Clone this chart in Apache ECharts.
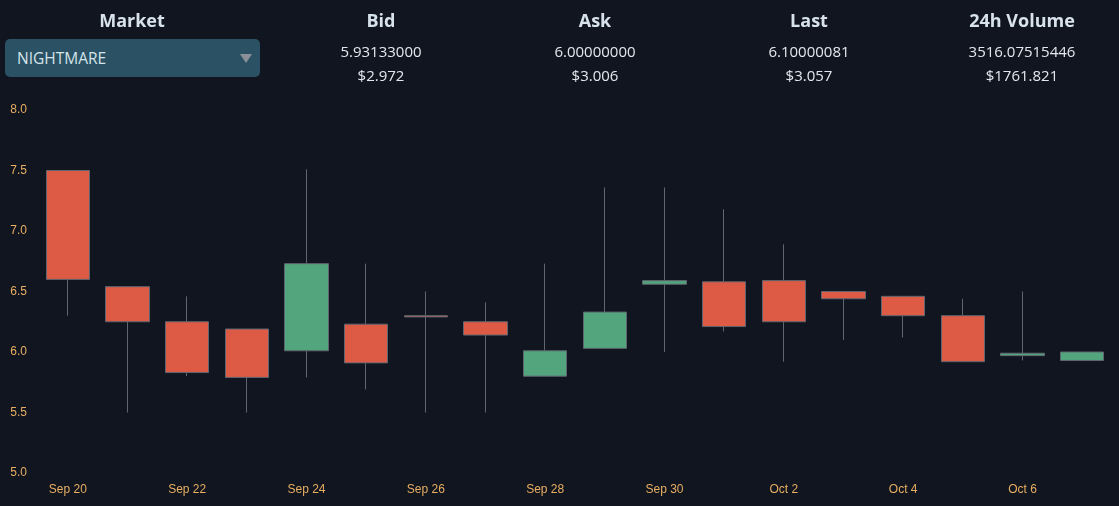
<!DOCTYPE html>
<html>
<head>
<meta charset="utf-8">
<script src="https://cdn.jsdelivr.net/npm/echarts@6/dist/echarts.min.js"></script>
<style>
  html, body { margin: 0; padding: 0; background: #10151f; }
  #wrap { position: relative; width: 1119px; height: 506px; overflow: hidden; font-family: "Open Sans", sans-serif; color: #e3e8ee; }
  #chart { position: absolute; left: 0; top: 0; width: 1119px; height: 506px; }
  .col { position: absolute; top: 8px; width: 220px; text-align: center; font-size: 15px; line-height: 24px; }
  .col b { display: block; font-size: 18px; font-weight: 700; line-height: 24px; margin-bottom: 7px; color: #d8e2ec; }
  #market { position: absolute; left: 5px; top: 39px; width: 255px; height: 38px; border-radius: 5px; background: #2a5264; color: #d5e3ea; font-size: 15.5px; line-height: 39px; text-indent: 12px; }
  #market i { position: absolute; right: 8px; top: 15px; border-left: 6px solid transparent; border-right: 6px solid transparent; border-top: 9px solid #8a8f98; }
</style>
</head>
<body>
<div id="wrap">
  <div id="chart"></div>
  <div class="col" style="left:22px"><b>Market</b></div>
  <div id="market">NIGHTMARE<i></i></div>
  <div id="stats"></div>
</div>
<script>
var headers = ['Bid', 'Ask', 'Last', '24h Volume']
var coinValues = ['5.93133000', '6.00000000', '6.10000081', '3516.07515446']
var usdValues = ['$2.972', '$3.006', '$3.057', '$1761.821']
var centers = [381, 595, 809, 1022]

var days = ['Sep 20', 'Sep 21', 'Sep 22', 'Sep 23', 'Sep 24', 'Sep 25', 'Sep 26', 'Sep 27', 'Sep 28',
  'Sep 29', 'Sep 30', 'Oct 1', 'Oct 2', 'Oct 3', 'Oct 4', 'Oct 5', 'Oct 6', 'Oct 7']
var opens  = [7.50, 6.54, 6.25, 6.19, 6.01, 6.23, 6.30, 6.25, 5.80, 6.03, 6.56, 6.58, 6.59, 6.50, 6.46, 6.30, 5.97, 5.93]
var closes = [6.60, 6.25, 5.83, 5.79, 6.73, 5.91, 6.29, 6.14, 6.01, 6.33, 6.59, 6.21, 6.25, 6.44, 6.30, 5.92, 5.99, 6.00]
var lows   = [6.30, 5.50, 5.80, 5.50, 5.79, 5.69, 5.50, 5.50, 5.80, 6.03, 6.00, 6.17, 5.92, 6.10, 6.12, 5.92, 5.93, 5.93]
var highs  = [7.50, 6.54, 6.46, 6.19, 7.51, 6.73, 6.50, 6.41, 6.73, 7.36, 7.36, 7.18, 6.89, 6.50, 6.46, 6.44, 6.50, 6.00]

var stats = document.getElementById('stats')
headers.forEach(function (h, i) {
  var col = document.createElement('div')
  col.className = 'col'
  col.style.left = (centers[i] - 110) + 'px'
  col.innerHTML = '<b>' + h + '</b>' + coinValues[i] + '<br>' + usdValues[i]
  stats.appendChild(col)
})

var candles = days.map(function (d, i) {
  return [opens[i], closes[i], lows[i], highs[i]]
})

var myChart = echarts.init(document.getElementById('chart'))
myChart.setOption({
  animation: false,
  backgroundColor: '#10151f',
  grid: { left: 38, right: 7, top: 110, bottom: 33 },
  xAxis: {
    type: 'category',
    data: days,
    axisLine: { show: false },
    axisTick: { show: false },
    splitLine: { show: false },
    axisLabel: { interval: 1, color: '#e8ae62', fontSize: 12, fontFamily: 'Liberation Sans', margin: 11 }
  },
  yAxis: {
    type: 'value',
    min: 5,
    max: 8,
    interval: 0.5,
    axisLine: { show: false },
    axisTick: { show: false },
    splitLine: { show: false },
    axisLabel: {
      color: '#e8ae62',
      fontSize: 12,
      fontFamily: 'Liberation Sans',
      margin: 11,
      padding: [2, 0, 0, 0],
      formatter: function (v) { return v.toFixed(1) }
    }
  },
  series: [{
    type: 'candlestick',
    data: candles,
    barWidth: 44,
    itemStyle: {
      color: '#52a57c',
      color0: '#dd5a45',
      borderColor: '#5f6670',
      borderColor0: '#5f6670',
      borderWidth: 1
    }
  }]
})
</script>
</body>
</html>
